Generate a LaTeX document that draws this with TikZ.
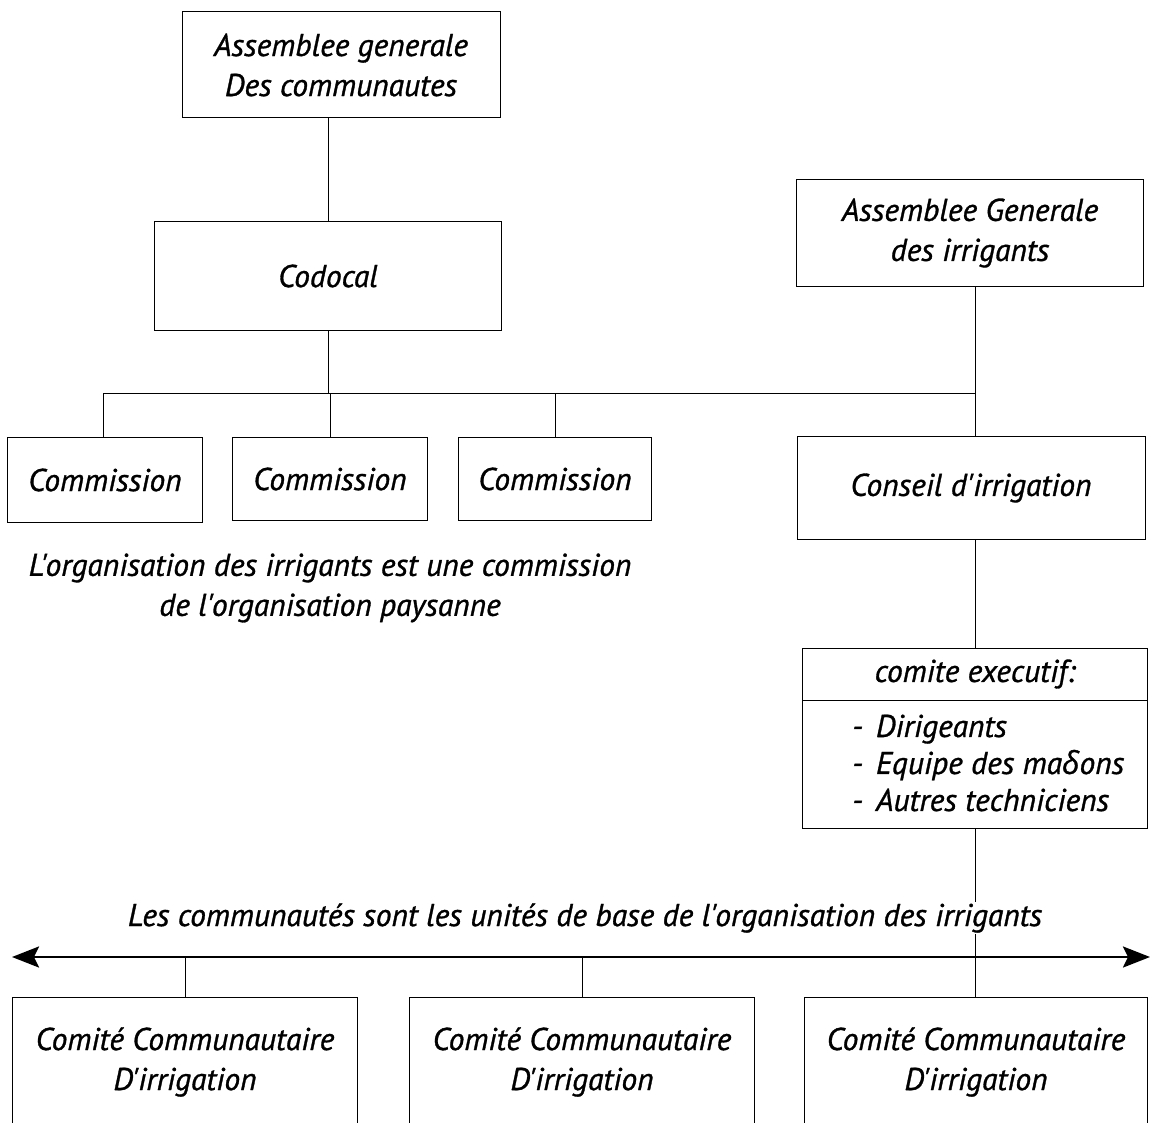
\documentclass[tikz,border=0pt]{standalone}
\usepackage{fontspec}
\setmainfont{PT Sans}[Ligatures=TeXOff, ItalicFeatures={FakeBold=1.0}]
\newfontfamily\greekfont{Open Sans}[ItalicFeatures={FakeBold=1.0}]
\usetikzlibrary{arrows.meta}

\begin{document}
\begin{tikzpicture}
[
	x=1pt, y=-1pt,
% Box style
	box/.style={
		draw,
		line width=1pt,
		align=center,
		font=\fontsize{31.5}{40}\selectfont\itshape,
		inner sep=0pt},
% Plain text style
	caption/.style={
		align=center,
		font=\fontsize{31.5}{40}\selectfont\itshape,
		inner sep=2pt},
% Connector style
	link/.style={
		line width=1pt},
% Double arrow style
	basearrow/.style={
		line width=2.6pt,
		{Stealth[length=27pt,width=21pt,inset=5pt]}-{Stealth[length=27pt,width=21pt,inset=5pt]}},
]

\useasboundingbox (0,0) rectangle (1158,1123);

% Top of the organisation
\node[box, minimum width=318, minimum height=106] (assComm) at (341,65)
	{Assemblee generale\\Des communautes};

\node[box, minimum width=347, minimum height=108] (codocal) at (328,276)
	{Codocal};

\node[box, minimum width=347, minimum height=107] (assIrr) at (970,233)
	{Assemblee Generale\\des irrigants};

% Commissions
\node[box, minimum width=195, minimum height=85] (comm1) at (105,480) {Commission};
\node[box, minimum width=195, minimum height=83] (comm2) at (330,479) {Commission};
\node[box, minimum width=193, minimum height=83] (comm3) at (555,479) {Commission};

\node[box, minimum width=348, minimum height=103] (conseil) at (971,488)
	{Conseil d'irrigation};

\node[caption] (noteOrg) at (330,588)
	{L'organisation des irrigants est une commission\\de l'organisation paysanne};

% Executive committee
\node[box, minimum width=345, minimum height=52] (comiteHead) at (975,674)
	{comite executif:};
\node[box, minimum width=345, minimum height=128] (comiteList) at (975,764) {};
\node[caption, align=left, anchor=west, inner sep=0pt,
	font=\fontsize{31.5}{37}\selectfont\itshape] (comiteItems) at (852,763)
	{-\hspace{13pt}Dirigeants\\-\hspace{13pt}Equipe des ma{\greekfont δ}ons\\-\hspace{13pt}Autres techniciens};

% Bar between Codocal and the commissions
\coordinate (barL) at (103,393);
\coordinate (barR) at (975,393);

\draw[link] (codocal.north) -- (codocal.north |- assComm.south);
\draw[link] (codocal.south) -- (codocal.south |- barL);
\draw[link] (comm1.north -| barL) |- (barR);
\draw[link] (comm2.north) -- (comm2.north |- barL);
\draw[link] (comm3.north) -- (comm3.north |- barL);
\draw[link] (assIrr.south -| barR) -- (conseil.north -| barR);
\draw[link] (conseil.south -| barR) -- (comiteHead.north -| barR);

% Base communities
\node[box, minimum width=345, minimum height=130] (ccd1) at (185,1062)
	{Comité Communautaire\\D'irrigation};
\node[box, minimum width=345, minimum height=130] (ccd2) at (582,1062)
	{Comité Communautaire\\D'irrigation};
\node[box, minimum width=343, minimum height=130] (ccd3) at (976,1062)
	{Comité Communautaire\\D'irrigation};

\coordinate (arrL) at (12,957);
\coordinate (arrR) at (1150,957);

\draw[link] (comiteList.south -| barR) -- (ccd3.north -| barR);
\draw[link] (ccd1.north) -- (ccd1.north |- arrL);
\draw[link] (ccd2.north) -- (ccd2.north |- arrL);
\draw[basearrow] (arrL) -- (arrR);

\node[caption, fill=white, inner sep=1pt] (noteBase) at (585,918)
	{Les communautés sont les unités de base de l'organisation des irrigants};

\end{tikzpicture}
\end{document}
